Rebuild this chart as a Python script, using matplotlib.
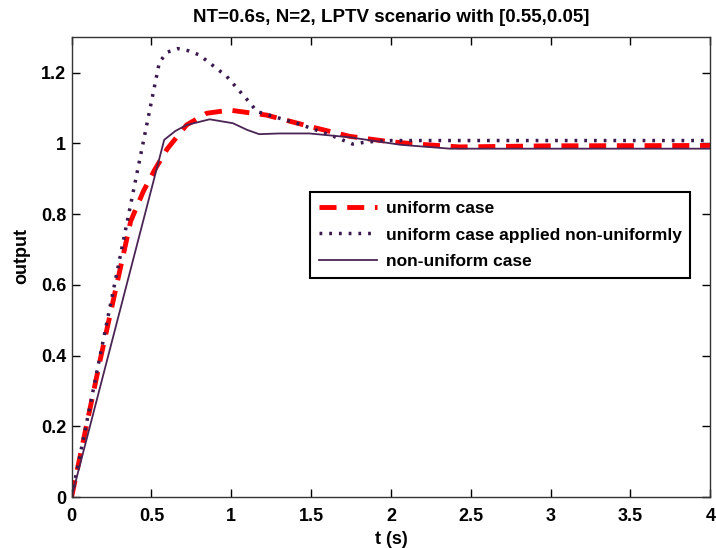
import numpy as np
import matplotlib
matplotlib.use('Agg')
import matplotlib.pyplot as plt

plt.rcParams['font.family'] = ['Liberation Sans', 'DejaVu Sans']
plt.rcParams['font.weight'] = 'bold'

# uniform case
t_uni = [0, 0.18, 0.37, 0.45, 0.52, 0.6, 0.72, 0.845, 0.99, 1.22,
         1.49, 1.74, 1.97, 2.16, 2.43, 3.0, 4.0]
y_uni = [0, 0.39, 0.78, 0.865, 0.925, 0.985, 1.052, 1.085, 1.094, 1.08,
         1.048, 1.02, 1.006, 0.998, 0.99, 0.993, 0.994]

# uniform case applied non-uniformly
t_mix = [0, 0.55, 0.6, 0.665, 0.73, 0.8, 0.97, 1.12,
         1.16, 1.43, 1.64, 1.76, 1.85, 2.0, 4.0]
y_mix = [0, 1.23, 1.258, 1.268, 1.262, 1.25, 1.19, 1.113,
         1.09, 1.054, 1.02, 0.998, 1.004, 1.008, 1.008]

# non-uniform case
t_non = [0, 0.58, 0.65, 0.72, 0.865, 1.01, 1.1,
         1.175, 1.3, 1.49, 1.745, 2.06, 2.37, 4.0]
y_non = [0, 1.01, 1.035, 1.052, 1.068, 1.057, 1.038,
         1.026, 1.028, 1.028, 1.017, 0.996, 0.985, 0.985]

fig = plt.figure(figsize=(7.16, 5.48), dpi=100)
ax = fig.add_axes([0.1, 0.093, 0.892, 0.839])

ax.plot(t_uni, y_uni, color='#ff0000', linestyle=(0, (3.5, 2.2)), linewidth=3.5,
        label='uniform case')
ax.plot(t_mix, y_mix, color='#3a1a4e', linestyle=(0, (0.8, 2.0)), linewidth=2.5,
        label='uniform case applied non-uniformly')
ax.plot(t_non, y_non, color='#4a2454', linewidth=1.3, label='non-uniform case')

ax.set_xlim(0, 4)
ax.set_ylim(0, 1.3)
ax.set_xticks(np.arange(0, 4.01, 0.5))
ax.set_xticklabels(['0', '0.5', '1', '1.5', '2', '2.5', '3', '3.5', '4'])
ax.set_yticks(np.arange(0, 1.21, 0.2))
ax.set_yticklabels(['0', '0.2', '0.4', '0.6', '0.8', '1', '1.2'])
ax.tick_params(direction='in', top=True, right=True, length=6, width=1,
               labelsize=13, pad=4)
ax.tick_params(axis='x', pad=8)
for s in ax.spines.values():
    s.set_linewidth(1)
    s.set_color('#333333')

ax.set_xlabel('t (s)', fontsize=13, fontweight='bold', labelpad=4)
ax.set_ylabel('output', fontsize=13, fontweight='bold')
ax.yaxis.set_label_coords(-0.064, 0.525)
ax.set_title('NT=0.6s, N=2, LPTV scenario with [0.55,0.05]', fontsize=13.5,
             fontweight='bold', pad=11)

leg = ax.legend(loc='upper right', bbox_to_anchor=(0.969, 0.664), fontsize=12.5,
                fancybox=False, edgecolor='black', framealpha=1,
                borderaxespad=0, handlelength=3.35, handletextpad=0.5,
                borderpad=0.5, labelspacing=0.68)
leg.get_frame().set_linewidth(1.5)

fig.savefig('out.png', dpi=100)
